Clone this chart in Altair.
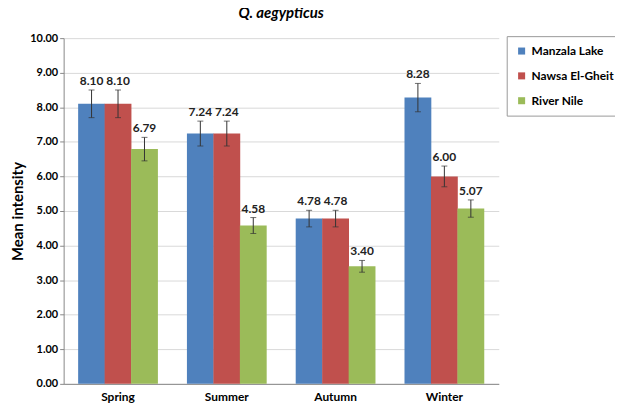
import altair as alt
import pandas as pd

seasons = ["Spring", "Summer", "Autumn", "Winter"]
sites = ["Manzala Lake", "Nawsa El-Gheit", "River Nile"]
manzala = [8.10, 7.24, 4.78, 8.28]
nawsa = [8.10, 7.24, 4.78, 6.00]
nile = [6.79, 4.58, 3.40, 5.07]
err_manzala = [0.40, 0.36, 0.24, 0.41]
err_nawsa = [0.40, 0.36, 0.24, 0.30]
err_nile = [0.34, 0.23, 0.17, 0.25]
y_ticks = [0, 1, 2, 3, 4, 5, 6, 7, 8, 9, 10]
colors = ["#4F81BD", "#C0504D", "#9BBB59"]

rows = []
for site, vals, errs in zip(sites, [manzala, nawsa, nile], [err_manzala, err_nawsa, err_nile]):
    for s, v, e in zip(seasons, vals, errs):
        rows.append({"season": s, "site": site, "value": v, "lo": v - e, "hi": v + e,
                     "label": f"{v:.2f}"})
df = pd.DataFrame(rows)

FONT = "Lato"

x = alt.X("season:N", sort=seasons, title=None,
          scale=alt.Scale(paddingInner=0.27, paddingOuter=0.135),
          axis=alt.Axis(labelAngle=0, labelFontWeight="bold", labelFontSize=12,
                        labelColor="#000", ticks=False, domainColor="#888",
                        labelPadding=8, labelFont=FONT))
xo = alt.XOffset("site:N", sort=sites)
color = alt.Color("site:N", sort=sites, scale=alt.Scale(domain=sites, range=colors),
                  legend=alt.Legend(title=None, orient="none", legendX=446, legendY=-2,
                                    symbolType="square", symbolSize=50,
                                    labelFontWeight="bold", labelFontSize=12,
                                    labelFont=FONT, labelColor="#000", labelLimit=200,
                                    strokeColor="#999", padding=9, rowPadding=13,
                                    fillColor="white"))

yscale = alt.Scale(domain=[0, 10], nice=False)
yaxis = alt.Axis(format=".2f", values=y_ticks, labelOverlap=False,
                 titleFontSize=15, titleFontWeight="bold", titleFont=FONT,
                 titleColor="#000", labelFontWeight="bold", labelFontSize=11,
                 labelFont=FONT, labelColor="#000", gridColor="#d9d9d9", grid=True,
                 domainColor="#888", tickColor="#888", tickSize=4, titlePadding=4)

def Y(field):
    return alt.Y(field, type="quantitative", title="Mean intensity", scale=yscale, axis=yaxis)

base = alt.Chart(df)

bars = base.mark_bar(width=27).encode(x=x, xOffset=xo, color=color, y=Y("value"))
rules = base.mark_rule(color="#333", strokeWidth=1).encode(
    x=x, xOffset=xo, y=Y("lo"), y2="hi:Q")
cap_lo = base.mark_tick(color="#333", thickness=1, size=6, orient="horizontal").encode(
    x=x, xOffset=xo, y=Y("lo"))
cap_hi = base.mark_tick(color="#333", thickness=1, size=6, orient="horizontal").encode(
    x=x, xOffset=xo, y=Y("hi"))
labels = base.mark_text(dy=-9, fontWeight="bold", fontSize=12, font=FONT, color="#222").encode(
    x=x, xOffset=xo, y=Y("hi"), text="label:N")

chart = alt.layer(bars, rules, cap_lo, cap_hi, labels).properties(
    width=438, height=348,
    title=alt.TitleParams("Q. aegypticus", fontStyle="italic", fontWeight="bold",
                          fontSize=15, font=FONT, color="#000", offset=11),
    autosize=alt.AutoSizeParams(type="none"),
    padding={"left": 56, "top": 29, "right": 117, "bottom": 27},
).configure_view(stroke=None).configure_axisX(grid=False)

chart.save("out.html", embed_options={"renderer": "svg", "actions": False})
